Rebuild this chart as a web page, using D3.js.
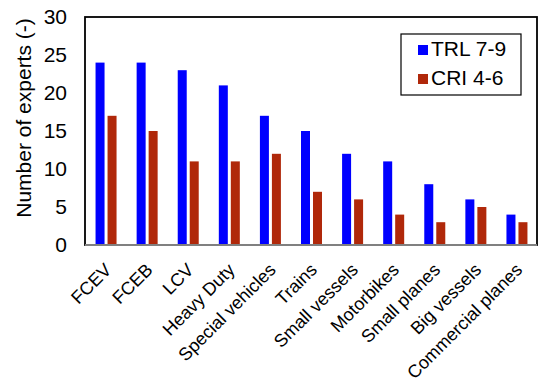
<!DOCTYPE html>
<html>
<head>
<meta charset="utf-8">
<script src="https://cdn.jsdelivr.net/npm/d3@7"></script>
<style>
  body { margin: 0; background: #fff; }
  text { font-family: "Liberation Sans", Arial, sans-serif; fill: #000; }
</style>
</head>
<body>
<div id="chart"></div>
<script>
var categories = ["FCEV", "FCEB", "LCV", "Heavy Duty", "Special vehicles", "Trains",
  "Small vessels", "Motorbikes", "Small planes", "Big vessels", "Commercial planes"];
var trl = [24, 24, 23, 21, 17, 15, 12, 11, 8, 6, 4];
var cri = [17, 15, 11, 11, 12, 7, 6, 4, 3, 5, 3];
var seriesNames = ["TRL 7-9", "CRI 4-6"];
var seriesColors = ["#0000ff", "#b0280a"];
var yTicks = [0, 5, 10, 15, 20, 25, 30];

var W = 550, H = 384;
var margin = { top: 17, right: 13, bottom: 139, left: 85 },
  width = W - margin.left - margin.right,
  height = H - margin.top - margin.bottom;

var svg = d3.select("#chart").append("svg")
  .attr("width", W)
  .attr("height", H);

var g = svg.append("g")
  .attr("transform", "translate(" + margin.left + "," + margin.top + ")");

var x = d3.scaleBand().domain(categories).range([0, width]).paddingInner(0).paddingOuter(0);
var y = d3.scaleLinear().domain([0, 30]).range([height, 0]);

var barW = 9, gap = 3;

var data = categories.map(function(c, i) {
  return { cat: c, vals: [trl[i], cri[i]] };
});

var grp = g.selectAll(".cat")
  .data(data)
  .enter().append("g")
  .attr("class", "cat")
  .attr("transform", function(d) { return "translate(" + (x(d.cat) + x.bandwidth() / 2) + ",0)"; });

grp.selectAll("rect")
  .data(function(d) { return d.vals; })
  .enter().append("rect")
  .attr("x", function(d, i) { return i === 0 ? -barW - gap / 2 + 0.5 : gap / 2 + 0.5; })
  .attr("width", barW)
  .attr("y", function(d) { return y(d); })
  .attr("height", function(d) { return height - y(d); })
  .style("fill", function(d, i) { return seriesColors[i]; });

// frame
g.append("rect")
  .attr("width", width)
  .attr("height", height)
  .style("fill", "none")
  .style("stroke", "#000")
  .style("stroke-width", 1.8);
g.append("line")
  .attr("x1", 0).attr("x2", width)
  .attr("y1", height).attr("y2", height)
  .style("stroke", "#808080")
  .style("stroke-width", 1.8);

// y axis labels
var yAxis = d3.axisLeft(y).tickValues(yTicks).tickSize(0).tickPadding(18);
var yg = g.append("g").call(yAxis);
yg.select(".domain").remove();
yg.selectAll("text")
  .style("font-size", "21px")
  .style("font-family", "Liberation Sans, Arial, sans-serif");

// x axis labels
var xAxis = d3.axisBottom(x).tickSize(0).tickPadding(0);
var xg = g.append("g").attr("transform", "translate(0," + height + ")").call(xAxis);
xg.select(".domain").remove();
xg.selectAll("text")
  .style("font-size", "18px")
  .style("font-family", "Liberation Sans, Arial, sans-serif")
  .style("text-anchor", "end")
  .attr("dy", null)
  .attr("y", 0)
  .attr("transform", "translate(7,26) rotate(-45)");

// y title
svg.append("text")
  .attr("transform", "translate(31,118) rotate(-90)")
  .style("text-anchor", "middle")
  .style("font-size", "21px")
  .text("Number of experts (-)");

// legend
var lg = svg.append("g").attr("transform", "translate(401,34)");
lg.append("rect")
  .attr("width", 120).attr("height", 61)
  .style("fill", "#fff")
  .style("stroke", "#000")
  .style("stroke-width", 1.2);
seriesNames.forEach(function(n, i) {
  lg.append("rect")
    .attr("x", 17).attr("y", 11 + i * 29)
    .attr("width", 10).attr("height", 10)
    .style("fill", seriesColors[i]);
  lg.append("text")
    .attr("x", 30).attr("y", 22 + i * 29)
    .style("font-size", "21px")
    .text(n);
});
</script>
</body>
</html>
